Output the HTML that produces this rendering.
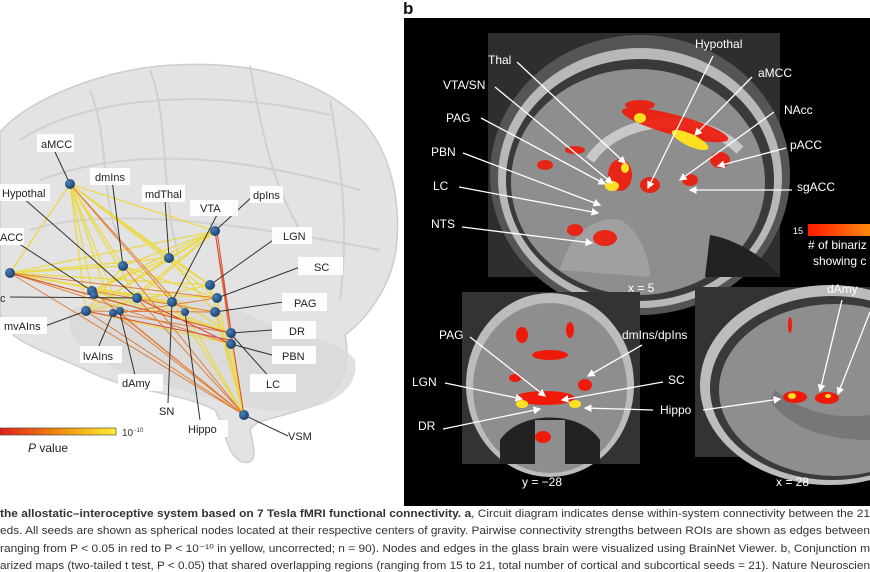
<!DOCTYPE html>
<html><head><meta charset="utf-8"><style>
html,body{margin:0;padding:0;background:#fff;width:870px;height:572px;overflow:hidden}
svg{display:block;font-family:"Liberation Sans",sans-serif}
</style></head><body>
<svg width="870" height="572" viewBox="0 0 870 572" xmlns="http://www.w3.org/2000/svg">
<defs>
<linearGradient id="pb" x1="0" x2="1"><stop offset="0" stop-color="#e0201a"/><stop offset="0.5" stop-color="#f08a10"/><stop offset="1" stop-color="#fff030"/></linearGradient>
<linearGradient id="cb" x1="0" x2="1"><stop offset="0" stop-color="#ff1a00"/><stop offset="1" stop-color="#ff8a10"/></linearGradient>
<radialGradient id="nd" cx="0.35" cy="0.35" r="0.7"><stop offset="0" stop-color="#4a80b8"/><stop offset="1" stop-color="#183e6a"/></radialGradient>
<marker id="ar" markerWidth="6" markerHeight="6" refX="5" refY="3" orient="auto"><path d="M0,0 L6,3 L0,6z" fill="#fff"/></marker>
</defs>
<!-- glass brain -->
<path d="M0,132 C30,98 100,72 160,66 C230,60 300,70 350,110 C390,140 402,200 396,250 C390,290 365,320 345,335 C352,370 340,400 300,410 C270,420 255,420 250,430 C255,450 258,465 242,462 C226,455 226,430 215,410 C180,392 130,392 90,372 C50,352 0,342 0,310 Z" fill="#e3e3e3" stroke="#cdcdcd" stroke-width="1.5"/>
<path d="M70,310 C120,290 200,290 260,320 C300,335 340,340 355,360 C360,390 330,405 300,410 C250,415 200,395 150,380 C110,370 80,350 70,330Z" fill="#d8d8d8" opacity="0.8"/>
<path d="M20,140 C80,100 200,85 330,115 M40,180 C120,150 220,150 360,190 M30,230 C90,210 200,215 380,250 M150,70 C170,120 160,200 180,260 M250,66 C260,120 270,180 300,230 M90,90 C110,140 100,200 120,240 M330,100 C340,160 350,220 340,300" stroke="#d0d0d0" stroke-width="2" fill="none"/>
<!-- edges -->
<g fill="none" opacity="0.85">
<g stroke="#ecd838" stroke-width="1.4">
<path d="M70,184 L123,266 M70,184 L169,258 M70,184 L215,231 M70,184 L92,291 M70,184 L10,273 M70,184 L137,298 M70,184 L86,311 M70,184 L113,313 M70,184 L120,311 M70,184 L210,285 M70,184 L217,298 M10,273 L215,312 M10,273 L172,302 M10,273 L123,266 M10,273 L169,258 M10,273 L210,285 M92,291 L215,231 M123,266 L215,231 M169,258 L215,231 M169,258 L92,291 M169,258 L215,312 M123,266 L217,298 M92,291 L231,333 M86,311 L231,344 M137,298 L230,333 M215,231 L86,311 M215,231 L113,313 M215,231 L137,298 M215,231 L92,291 M215,231 L10,273 M169,258 L86,311 M10,273 L231,333 M123,266 L230,333 M172,302 L244,415 M215,312 L244,415 M231,344 L244,415 M185,312 L244,415 M217,298 L244,415 M210,285 L244,415 M231,333 L244,415 M123,266 L86,311 M169,258 L210,285 M92,291 L217,298 M86,311 L210,285"/>
</g>
<g stroke="#e07020" stroke-width="1">
<path d="M70,184 L172,302 M70,184 L185,312 M10,273 L217,298 M92,291 L215,312 M86,311 L215,312 M113,313 L231,333 M120,313 L244,415 M86,311 L244,415 M113,313 L244,415 M137,298 L244,415 M92,291 L244,415 M10,273 L244,415 M123,266 L244,415 M215,231 L231,344 M215,231 L231,333 M120,313 L217,298 M10,273 L231,344"/>
</g>
<g stroke="#d83020" stroke-width="1"><path d="M215,231 L244,415 M217,231 L233,345 M10,273 L230,333 M86,311 L230,340 M137,298 L231,344"/></g>
</g>
<!-- leader lines -->
<g stroke="#333" stroke-width="1">
<path d="M55,152 L70,184 M112,180 L123,266 M22,197 L137,298 M165,200 L169,258 M218,213 L172,302 M253,196 L215,231 M276,238 L210,285 M10,238 L92,291 M300,267 L217,298 M10,297 L137,298 M283,302 L215,312 M45,326 L86,311 M98,348 L113,313 M135,375 L120,313 M272,330 L231,333 M272,355 L231,344 M168,403 L172,302 M200,420 L185,312 M272,380 L230,333 M288,436 L244,415"/>
</g>
<!-- nodes -->
<g fill="url(#nd)">
<circle cx="70" cy="184" r="5"/><circle cx="123" cy="266" r="5"/><circle cx="169" cy="258" r="5"/><circle cx="215" cy="231" r="5"/><circle cx="10" cy="273" r="5"/><circle cx="92" cy="291" r="5"/><circle cx="94" cy="295" r="4"/><circle cx="137" cy="298" r="5"/><circle cx="172" cy="302" r="5"/><circle cx="210" cy="285" r="5"/><circle cx="217" cy="298" r="5"/><circle cx="215" cy="312" r="5"/><circle cx="86" cy="311" r="5"/><circle cx="113" cy="313" r="4"/><circle cx="120" cy="311" r="4"/><circle cx="185" cy="312" r="4"/><circle cx="231" cy="333" r="5"/><circle cx="231" cy="344" r="5"/><circle cx="244" cy="415" r="5"/>
</g>
<!-- labels -->
<g font-size="11" fill="#222">
<g fill="#fff" opacity="0.95">
<rect x="37" y="134" width="37" height="18"/><rect x="90" y="168" width="40" height="17"/><rect x="0" y="184" width="50" height="17"/><rect x="142" y="185" width="43" height="17"/><rect x="190" y="200" width="48" height="16"/><rect x="250" y="186" width="33" height="17"/><rect x="272" y="227" width="40" height="17"/><rect x="0" y="228" width="24" height="17"/><rect x="298" y="257" width="45" height="18"/><rect x="282" y="293" width="45" height="18"/><rect x="0" y="317" width="47" height="17"/><rect x="80" y="346" width="42" height="17"/><rect x="118" y="374" width="45" height="17"/><rect x="272" y="321" width="44" height="18"/><rect x="272" y="346" width="44" height="18"/><rect x="250" y="374" width="46" height="18"/><rect x="182" y="420" width="46" height="17"/>
</g>
<text x="41" y="148">aMCC</text><text x="95" y="181">dmIns</text><text x="2" y="197">Hypothal</text><text x="145" y="198">mdThal</text><text x="200" y="212">VTA</text><text x="253" y="199">dpIns</text><text x="283" y="240">LGN</text><text x="0" y="241">ACC</text><text x="314" y="271">SC</text><text x="294" y="307">PAG</text><text x="0" y="302">c</text><text x="4" y="330">mvAIns</text><text x="83" y="360">lvAIns</text><text x="122" y="387">dAmy</text><text x="289" y="335">DR</text><text x="282" y="360">PBN</text><text x="266" y="388">LC</text><text x="159" y="415">SN</text><text x="188" y="433">Hippo</text><text x="288" y="440">VSM</text>
</g>
<!-- colorbar -->
<rect x="0" y="428" width="116" height="7" fill="url(#pb)" stroke="#333" stroke-width="0.6"/>
<text x="122" y="436" font-size="10" fill="#333">10<tspan dy="-4" font-size="6">−10</tspan></text>
<text x="28" y="452" font-size="12" fill="#222"><tspan font-style="italic">P</tspan> value</text>
<!-- panel b -->
<text x="403" y="14" font-size="17" font-weight="bold" fill="#111">b</text>
<rect x="404" y="18" width="466" height="488" fill="#000"/>
<!-- sagittal top -->
<rect x="488" y="33" width="292" height="244" fill="#2e2e2e"/>
<ellipse cx="640" cy="175" rx="150" ry="140" fill="#555"/>
<ellipse cx="640" cy="178" rx="142" ry="130" fill="#b8b8b8"/>
<ellipse cx="640" cy="180" rx="134" ry="121" fill="#3a3a3a"/>
<ellipse cx="638" cy="182" rx="127" ry="113" fill="#8e8e8e"/>
<path d="M560,270 C570,230 600,215 620,220 C640,230 650,260 650,277 Z" fill="#a0a0a0"/>
<path d="M710,235 C740,240 770,262 780,277 L705,277Z" fill="#222"/>
<path d="M590,160 C620,115 700,110 740,150" stroke="#c8c8c8" stroke-width="10" fill="none"/>
<g fill="#f01a0a" opacity="0.9">
<ellipse cx="675" cy="125" rx="55" ry="10" transform="rotate(15 675 125)"/><ellipse cx="620" cy="175" rx="12" ry="16"/><ellipse cx="650" cy="185" rx="10" ry="8"/><ellipse cx="605" cy="238" rx="12" ry="8"/><ellipse cx="575" cy="230" rx="8" ry="6"/><ellipse cx="545" cy="165" rx="8" ry="5"/><ellipse cx="575" cy="150" rx="10" ry="4"/><ellipse cx="690" cy="180" rx="8" ry="6"/><ellipse cx="720" cy="160" rx="10" ry="8"/><ellipse cx="640" cy="105" rx="15" ry="5"/>
</g>
<g fill="#ffe020"><ellipse cx="640" cy="118" rx="6" ry="5"/><ellipse cx="690" cy="140" rx="20" ry="6" transform="rotate(25 690 140)"/><ellipse cx="612" cy="186" rx="7" ry="5"/><ellipse cx="625" cy="168" rx="4" ry="5"/></g>
<!-- coronal -->
<rect x="462" y="292" width="178" height="172" fill="#333"/>
<ellipse cx="550" cy="385" rx="84" ry="92" fill="#bcbcbc"/>
<ellipse cx="550" cy="388" rx="77" ry="85" fill="#8e8e8e"/>
<path d="M500,440 C520,410 580,410 600,440 L600,464 L500,464Z" fill="#222"/>
<rect x="535" y="420" width="30" height="44" fill="#8e8e8e"/>
<g fill="#f01a0a"><ellipse cx="522" cy="335" rx="6" ry="8"/><ellipse cx="570" cy="330" rx="4" ry="8"/><ellipse cx="550" cy="355" rx="18" ry="5"/><ellipse cx="585" cy="385" rx="7" ry="6"/><ellipse cx="545" cy="398" rx="30" ry="7"/><ellipse cx="543" cy="437" rx="8" ry="6"/><ellipse cx="515" cy="378" rx="6" ry="4"/></g>
<g fill="#ffe020"><ellipse cx="522" cy="404" rx="6" ry="4"/><ellipse cx="575" cy="404" rx="6" ry="4"/></g>
<!-- sagittal x=28 -->
<rect x="695" y="287" width="175" height="170" fill="#333"/>
<ellipse cx="830" cy="385" rx="130" ry="100" fill="#bcbcbc"/>
<ellipse cx="832" cy="388" rx="122" ry="92" fill="#3a3a3a"/>
<ellipse cx="835" cy="390" rx="116" ry="86" fill="#8e8e8e"/>
<path d="M775,390 C800,410 830,420 870,415 L870,440 C830,440 790,430 770,400Z" fill="#777"/>
<g fill="#f01a0a"><ellipse cx="795" cy="397" rx="12" ry="6"/><ellipse cx="827" cy="398" rx="12" ry="6"/><ellipse cx="790" cy="325" rx="2" ry="8"/></g>
<g fill="#ffe020"><ellipse cx="792" cy="396" rx="4" ry="3"/><ellipse cx="828" cy="396" rx="3" ry="2"/></g>
<!-- arrows b -->
<g stroke="#fff" stroke-width="1.3" marker-end="url(#ar)">
<line x1="517" y1="62" x2="625" y2="163"/><line x1="495" y1="87" x2="612" y2="183"/><line x1="481" y1="118" x2="605" y2="184"/><line x1="463" y1="153" x2="600" y2="205"/><line x1="459" y1="187" x2="598" y2="213"/><line x1="462" y1="227" x2="592" y2="243"/>
<line x1="713" y1="56" x2="648" y2="188"/><line x1="752" y1="77" x2="695" y2="135"/><line x1="774" y1="112" x2="680" y2="180"/><line x1="786" y1="148" x2="718" y2="166"/><line x1="792" y1="190" x2="690" y2="190"/>
<line x1="470" y1="337" x2="545" y2="396"/><line x1="642" y1="345" x2="588" y2="376"/><line x1="445" y1="383" x2="522" y2="399"/><line x1="663" y1="382" x2="562" y2="400"/><line x1="443" y1="429" x2="540" y2="409"/><line x1="653" y1="410" x2="585" y2="408"/><line x1="703" y1="410" x2="780" y2="399"/><line x1="842" y1="300" x2="820" y2="391"/><line x1="870" y1="312" x2="838" y2="394"/>
</g>
<g font-size="12" fill="#fff">
<text x="488" y="64">Thal</text><text x="443" y="89">VTA/SN</text><text x="446" y="122">PAG</text><text x="431" y="156">PBN</text><text x="433" y="190">LC</text><text x="431" y="228">NTS</text>
<text x="695" y="48">Hypothal</text><text x="758" y="77">aMCC</text><text x="784" y="114">NAcc</text><text x="790" y="149">pACC</text><text x="797" y="191">sgACC</text>
<text x="628" y="292">x = 5</text>
<text x="439" y="339">PAG</text><text x="622" y="339">dmIns/dpIns</text><text x="412" y="386">LGN</text><text x="668" y="384">SC</text><text x="418" y="430">DR</text><text x="660" y="414">Hippo</text><text x="827" y="293">dAmy</text>
<text x="522" y="486">y = −28</text><text x="776" y="486">x = 28</text>
</g>
<text x="793" y="234" font-size="9" fill="#fff">15</text>
<rect x="808" y="224" width="62" height="12" fill="url(#cb)"/>
<text x="808" y="249" font-size="12" fill="#fff"># of binariz</text>
<text x="813" y="265" font-size="12" fill="#fff">showing c</text>
<!-- caption -->
<g font-size="11" fill="#333">
<text x="0" y="517" textLength="870" lengthAdjust="spacingAndGlyphs"><tspan font-weight="bold">the allostatic–interoceptive system based on 7 Tesla fMRI functional connectivity.</tspan> <tspan font-weight="bold">a</tspan>, Circuit diagram indicates dense within-system connectivity between the 21</text>
<text x="0" y="534" textLength="870" lengthAdjust="spacingAndGlyphs">eds. All seeds are shown as spherical nodes located at their respective centers of gravity. Pairwise connectivity strengths between ROIs are shown as edges between</text>
<text x="0" y="552" textLength="870" lengthAdjust="spacingAndGlyphs">ranging from P &lt; 0.05 in red to P &lt; 10⁻¹⁰ in yellow, uncorrected; n = 90). Nodes and edges in the glass brain were visualized using BrainNet Viewer. b, Conjunction m</text>
<text x="0" y="569" textLength="870" lengthAdjust="spacingAndGlyphs">arized maps (two-tailed t test, P &lt; 0.05) that shared overlapping regions (ranging from 15 to 21, total number of cortical and subcortical seeds = 21). Nature Neuroscien</text>
</g>
</svg>
</body></html>
